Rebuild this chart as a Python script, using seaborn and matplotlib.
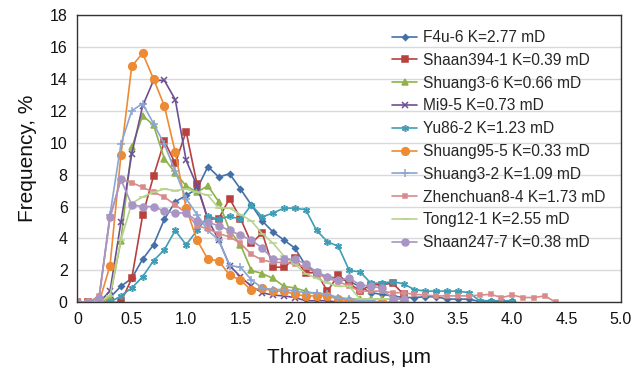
import numpy as np
import pandas as pd
import matplotlib
matplotlib.use("Agg")
import matplotlib.pyplot as plt
import seaborn as sns

# ---- data (throat radius step 0.1 µm) ----
labels = ["F4u-6 K=2.77 mD", "Shaan394-1 K=0.39 mD", "Shuang3-6 K=0.66 mD",
          "Mi9-5 K=0.73 mD", "Yu86-2 K=1.23 mD", "Shuang95-5 K=0.33 mD",
          "Shuang3-2 K=1.09 mD", "Zhenchuan8-4 K=1.73 mD", "Tong12-1 K=2.55 mD",
          "Shaan247-7 K=0.38 mD"]

f4u6 = [0, 0, 0, 0.3, 1.0, 1.5, 2.7, 3.6, 5.2, 6.3, 6.7, 7.1, 8.5, 7.85, 8.05, 7.1,
        6.1, 5.1, 4.4, 3.9, 3.4, 2.3, 1.8, 1.6, 1.5, 1.3, 1.0, 0.6, 0.5, 0.4, 0.3,
        0.3, 0.35, 0.35, 0.2, 0.2, 0.2, 0.05, 0.1, 0.0, 0.1]
shaan394 = [0, 0, 0, 0, 0, 1.5, 5.45, 7.9, 10.1, 8.7, 10.7, 7.4, 5.2, 5.25, 6.5, 5.25,
            3.7, 4.35, 2.2, 2.2, 2.75, 1.85, 1.85, 0.7, 1.7, 1.2, 0.7, 1.1, 1.1, 1.2, 0.5]
shuang36 = [0, 0, 0, 0.3, 3.85, 9.7, 11.7, 11.1, 9.0, 8.1, 7.3, 6.9, 7.3, 6.3, 4.5, 3.6,
            2.0, 1.8, 1.5, 1.0, 0.9, 0.7, 0.5, 0.4, 0.3, 0.2, 0.2, 0.2, 0.2, 0.2, 0.2]
mi95 = [0, 0, 0, 0.7, 5.0, 9.3, 12.3, 13.9, 13.9, 12.7, 8.9, 7.3, 5.2, 3.9, 2.3, 1.6,
        1.0, 0.6, 0.45, 0.4, 0.3, 0.1, 0.1, 0.1, 0.0, 0.0]
yu862 = [0, 0, 0, 0, 0.4, 0.9, 1.6, 2.6, 3.3, 4.5, 3.6, 4.5, 5.4, 5.2, 5.4, 5.2,
         6.1, 5.35, 5.6, 5.9, 5.9, 5.8, 4.5, 3.8, 3.5, 2.0, 1.9, 1.2, 1.2, 1.3, 1.15,
         0.8, 0.7, 0.7, 0.7, 0.7, 0.6, 0.1, 0.1, 0.1, 0.1]
shuang955 = [0, 0, 0, 2.3, 9.2, 14.8, 15.6, 14.0, 12.3, 9.4, 5.9, 3.9, 2.7, 2.6, 1.7, 1.4,
             0.75, 0.9, 0.7, 0.7, 0.5, 0.4, 0.4, 0.4, 0.2, 0.1, 0.0, 0.0, 0.0, 0.0, 0.0]
shuang32 = [0, 0, 0.3, 5.5, 9.9, 12.0, 12.45, 11.2, 9.9, 8.2, 6.5, 5.5, 4.5, 3.9, 2.3, 2.2,
            1.4, 0.9, 0.8, 0.8, 0.7, 0.6, 0.6, 0.5, 0.3, 0.2, 0.1, 0.1, 0.0, 0.0]
zhenchuan84 = [0, 0, 0.4, 5.3, 7.7, 7.5, 7.2, 6.9, 6.6, 6.1, 5.6, 4.8, 4.6, 4.3, 4.1, 3.7,
               3.0, 2.65, 2.5, 2.5, 2.4, 2.2, 1.8, 1.5, 1.3, 1.0, 0.7, 0.7, 0.7, 0.6, 0.6,
               0.5, 0.45, 0.4, 0.4, 0.4, 0.4, 0.45, 0.5, 0.3, 0.45, 0.3, 0.3, 0.4, 0.0]
tong121 = [0, 0, 0, 0.4, 3.9, 6.2, 6.6, 6.9, 7.1, 7.0, 7.1, 6.9, 6.7, 5.9, 5.9, 5.5,
           5.1, 4.3, 3.7, 2.9, 2.4, 1.8, 1.5, 1.2, 1.0, 1.0, 0.2, 0.2, 0.2, 0.2, 0.2]
shaan2477 = [0, 0, 0.3, 5.35, 7.7, 6.1, 6.0, 6.0, 5.7, 5.6, 5.6, 5.1, 5.0, 4.8, 4.5, 4.2,
             3.9, 3.4, 2.7, 2.7, 2.7, 2.4, 1.9, 1.6, 1.4, 1.5, 1.1, 1.0, 0.9, 0.2, 0.2]

series = [f4u6, shaan394, shuang36, mi95, yu862, shuang955, shuang32,
          zhenchuan84, tong121, shaan2477]

x_ticks = [0, 0.5, 1.0, 1.5, 2.0, 2.5, 3.0, 3.5, 4.0, 4.5, 5.0]
x_ticklabels = ["0", "0.5", "1.0", "1.5", "2.0", "2.5", "3.0", "3.5", "4.0", "4.5", "5.0"]
y_ticks = [0, 2, 4, 6, 8, 10, 12, 14, 16, 18]

# ---- style ----
colors = ["#4470a8", "#b8403d", "#8fb24a", "#6d4f94", "#3f9eb6", "#ee8a33",
          "#8aa6d2", "#d88b8a", "#b6d38e", "#a895c4"]
markers = ["D", "s", "^", "x", (6, 2, 0), "o", "+", "s", "_", "o"]
msizes = [3.0, 4.8, 5.0, 4.5, 5.0, 5.5, 5.5, 2.3, 5.5, 5.0]

sns.set_theme(style="white")
plt.rcParams['font.family'] = ['Liberation Sans', 'DejaVu Sans']

fig = plt.figure(figsize=(6.32, 3.74), dpi=100)
ax = fig.add_axes([77.4 / 632, 1 - 302.3 / 374, (621 - 77.4) / 632, (302.3 - 15) / 374])

for lab, vals, c, m, ms in zip(labels, series, colors, markers, msizes):
    xs = np.round(np.arange(len(vals)) * 0.1, 1)
    df = pd.DataFrame({"x": xs, "y": vals})
    sns.lineplot(data=df, x="x", y="y", ax=ax, color=c, marker=m, markersize=ms,
                 markeredgecolor=c, markerfacecolor=c, markeredgewidth=1.1,
                 linewidth=1.2, label=lab, estimator=None, sort=False)

ax.set_xlim(0, 5.0)
ax.set_ylim(0, 18)
ax.set_xticks(x_ticks)
ax.set_xticklabels(x_ticklabels)
ax.set_yticks(y_ticks)
ax.yaxis.grid(True, color="#d9d9d9", linewidth=1)
ax.xaxis.grid(False)
ax.set_axisbelow(True)
for s in ax.spines.values():
    s.set_color("#333333")
    s.set_linewidth(1.0)
ax.tick_params(axis="both", direction="out", length=4, width=1, color="#333333",
               labelsize=11.5, labelcolor="#111111", pad=3)
ax.set_xlabel("Throat radius, µm", fontsize=15, color="#111111", labelpad=15)
ax.set_ylabel("Frequency, %", fontsize=15, color="#111111", labelpad=9)

leg = ax.legend(loc="upper left", bbox_to_anchor=((386 - 77.4) / 543.6, 0.969),
                frameon=False, fontsize=11.2, handlelength=1.6, handletextpad=0.35,
                labelspacing=0.5, borderaxespad=0)

fig.savefig("out.png", dpi=100)
